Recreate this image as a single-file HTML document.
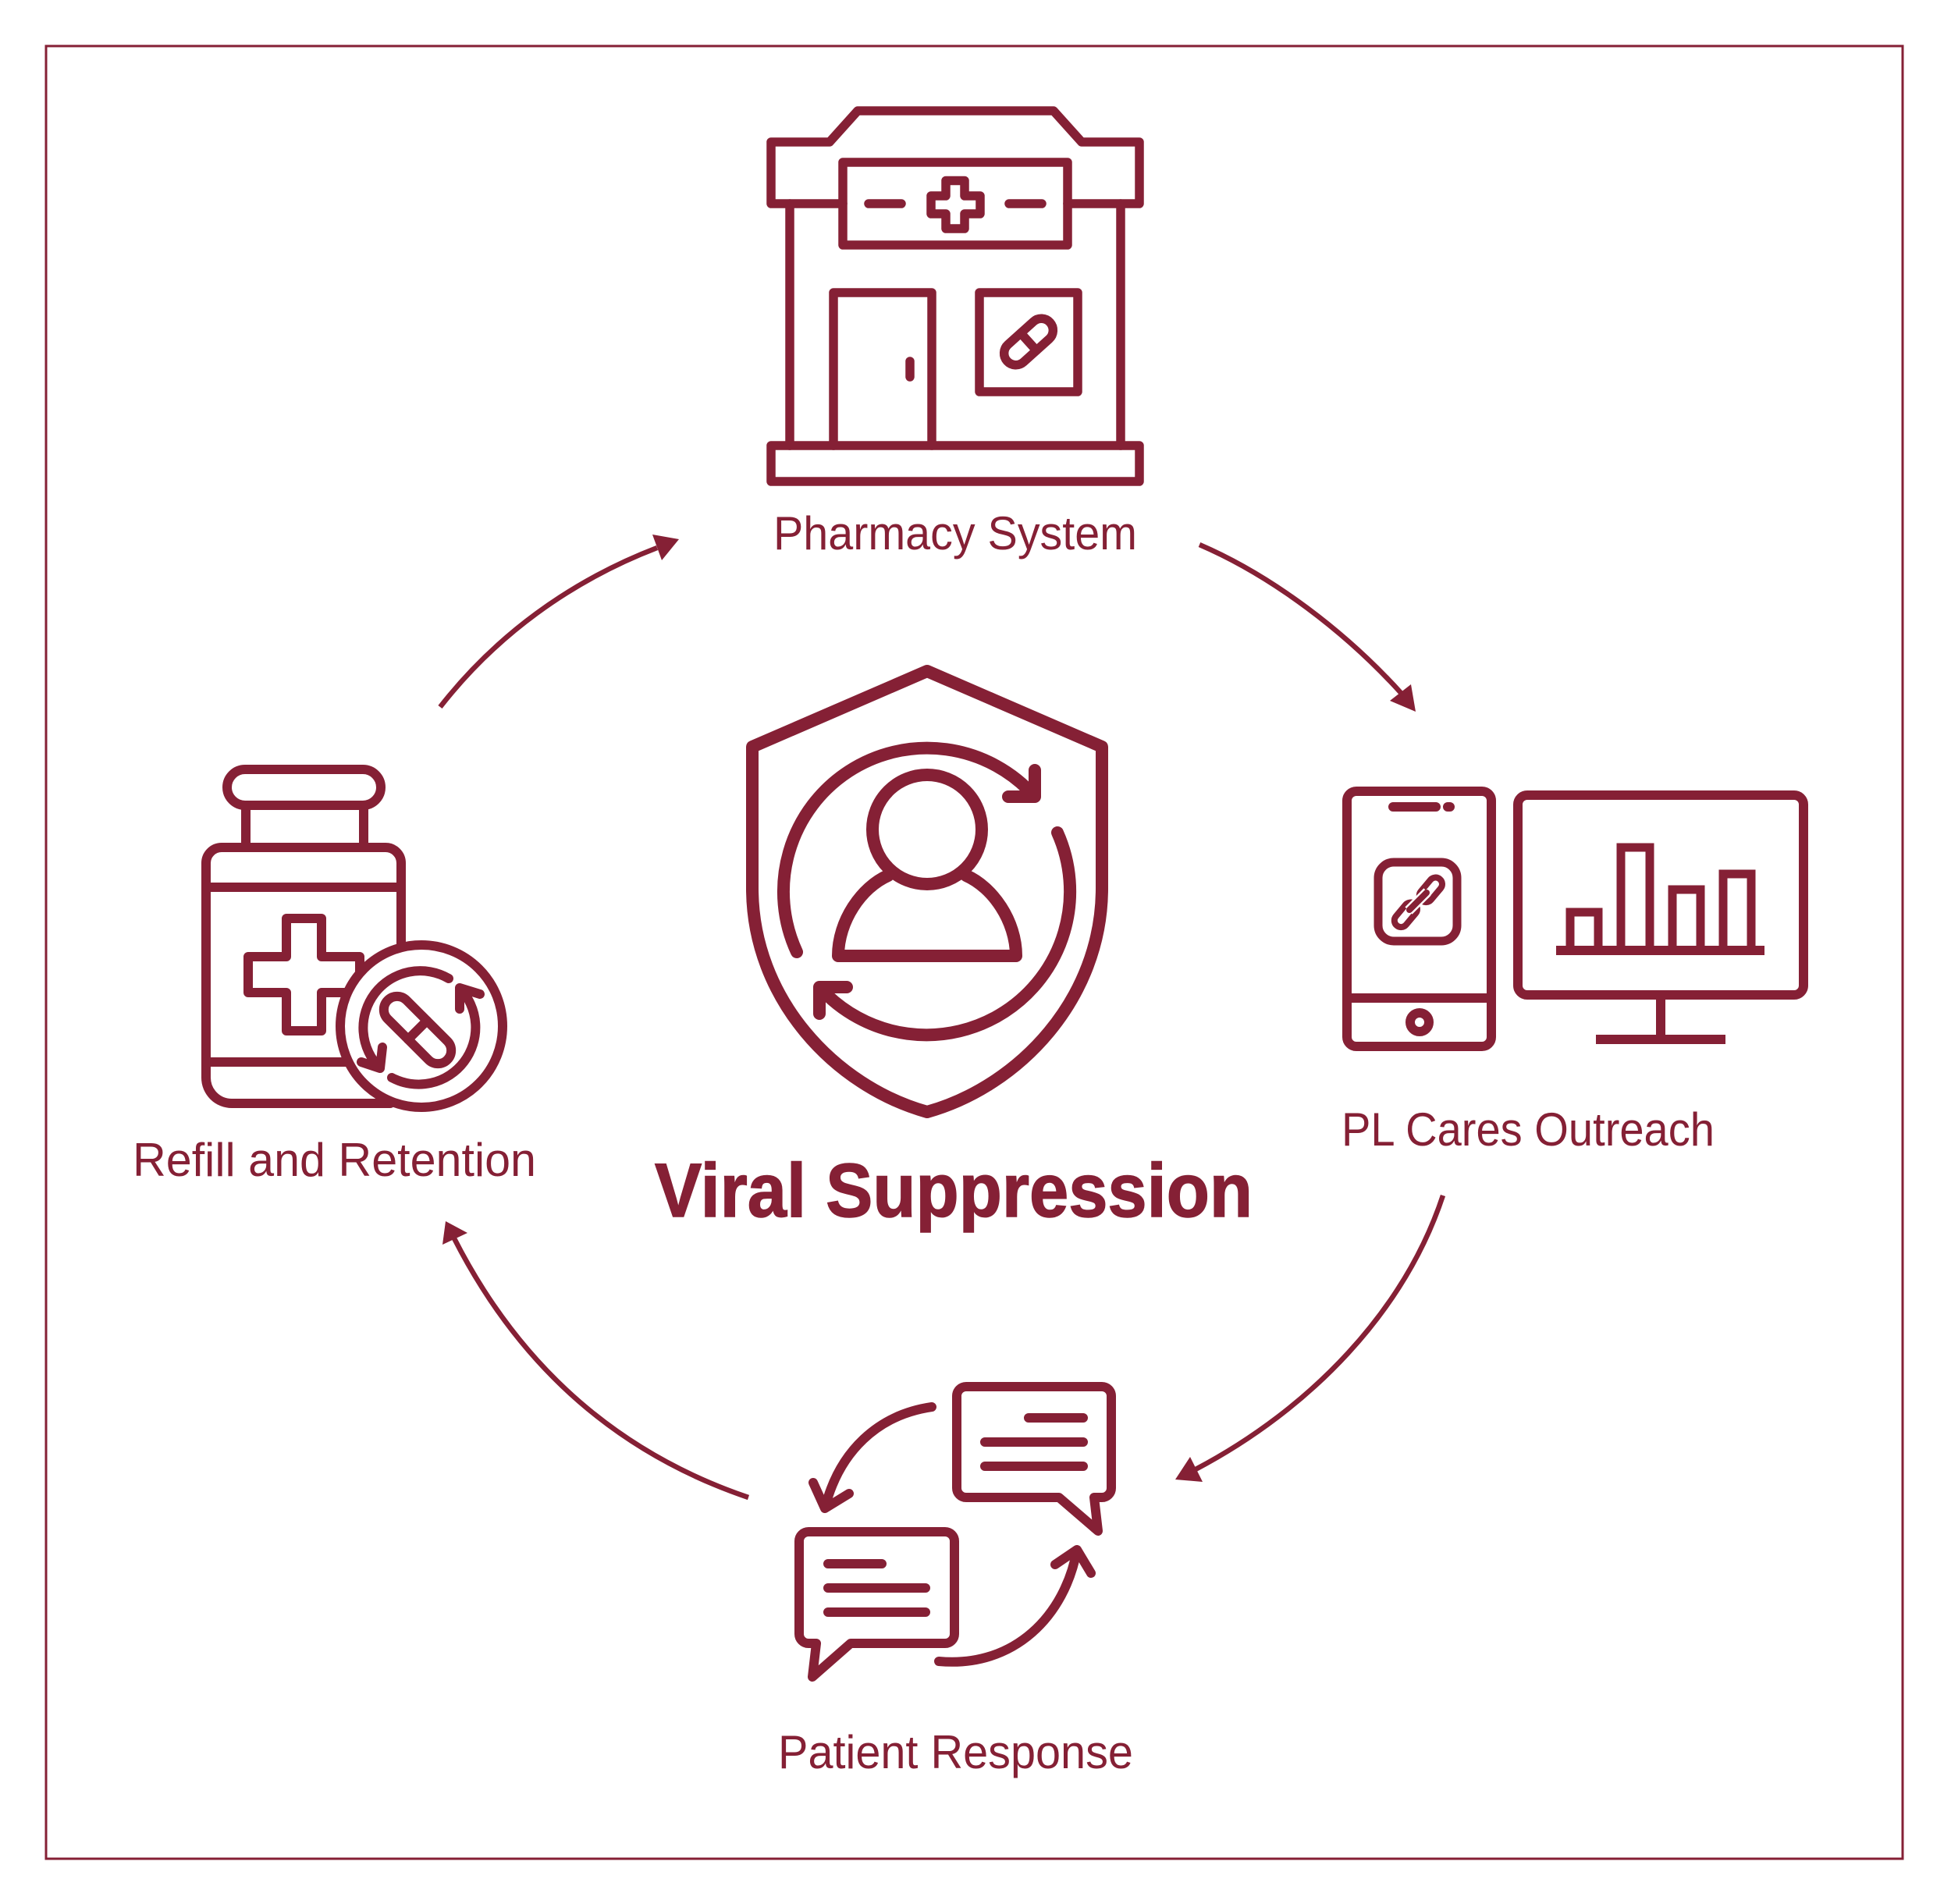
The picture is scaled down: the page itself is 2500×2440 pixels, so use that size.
<!DOCTYPE html>
<html><head><meta charset="utf-8"><style>
html,body{margin:0;padding:0;background:#fff}svg{display:block}
text{font-family:"Liberation Sans",sans-serif;fill:#852035}
.s{fill:none;stroke:#852035;stroke-width:12;stroke-linejoin:round;stroke-linecap:round}
.c{fill:none;stroke:#852035;stroke-width:6.5}
.h{fill:#852035}
</style></head><body>
<svg width="2500" height="2440" viewBox="0 0 2500 2440" xmlns="http://www.w3.org/2000/svg">
<rect width="2500" height="2440" fill="#fff"/>
<rect x="59" y="59" width="2379" height="2323" fill="none" stroke="#852035" stroke-width="3"/>

<!-- Pharmacy -->
<g class="s" style="stroke-width:11.5" transform="translate(0 -1)">
<path d="M1080 262H988V183H1063L1099 143H1350L1386 183H1460V262H1368"/>
<rect x="1080" y="209" width="288" height="106"/>
<path d="M1113 262H1155M1293 262H1335"/>
<path d="M1212 232.500H1236V252H1256V275H1236V294H1212V275H1193V252H1212Z"/>
<path d="M1012 262V572M1436 262V572"/>
<path d="M1068 572V376H1194V572"/>
<path d="M1166 464V484"/>
<rect x="1255" y="376" width="126" height="127"/>
<rect x="988" y="572" width="472" height="46"/>
<g transform="rotate(-42 1318 439)"><rect x="1281" y="424" width="74" height="30" rx="15"/><path d="M1318 424V454"/></g>
</g>
<text x="991" y="704" font-size="60" textLength="466" lengthAdjust="spacingAndGlyphs">Pharmacy System</text>

<!-- Shield -->
<g class="s" style="stroke-width:16">
<path d="M1188 860L964 957V1138C964 1280 1070 1392 1188 1425C1306 1392 1412 1280 1412 1138V957Z"/>
<path d="M1021 1220A184 184 0 0 1 1326 1021M1326 987V1021H1292"/>
<path d="M1355 1067A184 184 0 0 1 1050 1265M1085 1265H1050V1299"/>
<circle cx="1188" cy="1063" r="70"/>
<path d="M1074 1225H1302C1302 1180 1272 1137 1238 1122M1074 1225C1074 1180 1104 1137 1138 1122"/>
</g>
<text x="839" y="1559" font-size="97" font-weight="700" stroke="#852035" stroke-width="1.5" textLength="766" lengthAdjust="spacingAndGlyphs">Viral Suppression</text>

<!-- Devices -->
<g class="s">
<rect x="1726" y="1014" width="185" height="327" rx="12"/>
<path d="M1726 1279H1911" style="stroke-linecap:butt"/>
<path d="M1785 1034H1840M1855 1034H1858"/>
<circle cx="1819" cy="1310" r="12"/>
<rect x="1766" y="1105" width="101" height="101" rx="20" style="stroke-width:11"/>
<g style="stroke-width:8">
<rect x="1815" y="1132" width="36" height="17" rx="8.500" transform="rotate(-50 1833 1140)"/>
<rect x="1783" y="1164" width="36" height="17" rx="8.500" transform="rotate(-50 1801 1172)"/>
<path d="M1805 1167L1829 1143" style="stroke:#fff;stroke-width:13;stroke-linecap:butt"/>
<path d="M1806 1166L1828 1144"/>
</g>
<g transform="translate(-2 0)">
<rect x="1947" y="1019" width="366" height="256" rx="12"/>
<path d="M2130 1275V1332M2047 1332H2213M1996 1218H2263" style="stroke-linecap:butt"/>
<g style="stroke-linejoin:miter;stroke-linecap:butt;stroke-width:11">
<path d="M2014 1218V1169H2050V1218"/>
<path d="M2079 1218V1086H2116V1218"/>
<path d="M2145 1218V1140H2181V1218"/>
<path d="M2210 1218V1120H2246V1218"/>
</g>
</g>
</g>
<text x="1719" y="1468" font-size="60" textLength="478" lengthAdjust="spacingAndGlyphs">PL Cares Outreach</text>

<!-- Bottle -->
<g class="s">
<rect x="291" y="986" width="197" height="46" rx="23"/>
<path d="M315 1032V1086M466 1032V1086"/>
<path d="M514 1215V1106A20 20 0 0 0 494 1086H284A20 20 0 0 0 264 1106V1381A33 33 0 0 0 297 1414H500"/>
<path d="M264 1137H514M264 1361H450"/>
<path d="M367 1177H412V1226H461V1272H412V1321H367V1272H318V1226H367Z"/>
<circle cx="540" cy="1315" r="104" fill="#fff"/>
<path d="M575 1254A73 73 0 0 0 487 1369M490 1342L487 1369L463 1361"/>
<path d="M502 1381A73 73 0 0 0 589 1266M589 1293L589 1266L615 1274"/>
<g transform="rotate(45 535 1320)"><rect x="481" y="1303" width="108" height="34" rx="17"/><path d="M535 1303V1337"/></g>
</g>
<text x="170" y="1507" font-size="60" textLength="517" lengthAdjust="spacingAndGlyphs">Refill and Retention</text>

<!-- Bubbles -->
<g class="s">
<path d="M1357 1919H1238A12 12 0 0 1 1226 1907V1789A12 12 0 0 1 1238 1777H1412A12 12 0 0 1 1424 1789V1907A12 12 0 0 1 1412 1919H1402L1407 1962Z"/>
<path d="M1318 1817H1388M1262 1848H1388M1262 1879H1388"/>
<path d="M1090 2106H1211A12 12 0 0 0 1223 2094V1975A12 12 0 0 0 1211 1963H1036A12 12 0 0 0 1024 1975V2094A12 12 0 0 0 1036 2106H1046L1041 2149Z"/>
<path d="M1061 2004H1130M1061 2035H1186M1061 2066H1186"/>
<path d="M1194 1803C1125 1813 1075 1860 1057 1933M1042 1900L1057 1933L1088 1914"/>
<path d="M1203 2129C1300 2138 1365 2070 1380 1986M1352 2005L1380 1986L1398 2016"/>
</g>
<text x="997" y="2266" font-size="60" textLength="455" lengthAdjust="spacingAndGlyphs">Patient Response</text>

<!-- Connectors -->
<path class="c" d="M564 906C635 815 730 745 842 702"/>
<path class="h" d="M870 691L836 685L848 718Z"/>
<path class="c" d="M1537 698C1630 738 1725 810 1797 890"/>
<path class="h" d="M1814 912L1808 877L1781 898Z"/>
<path class="c" d="M1849 1532C1800 1680 1680 1805 1532 1883"/>
<path class="h" d="M1506 1896L1525 1867L1541 1899Z"/>
<path class="c" d="M959 1919C800 1865 670 1760 582 1587"/>
<path class="h" d="M571 1565L567 1595L599 1580Z"/>
</svg>
</body></html>
